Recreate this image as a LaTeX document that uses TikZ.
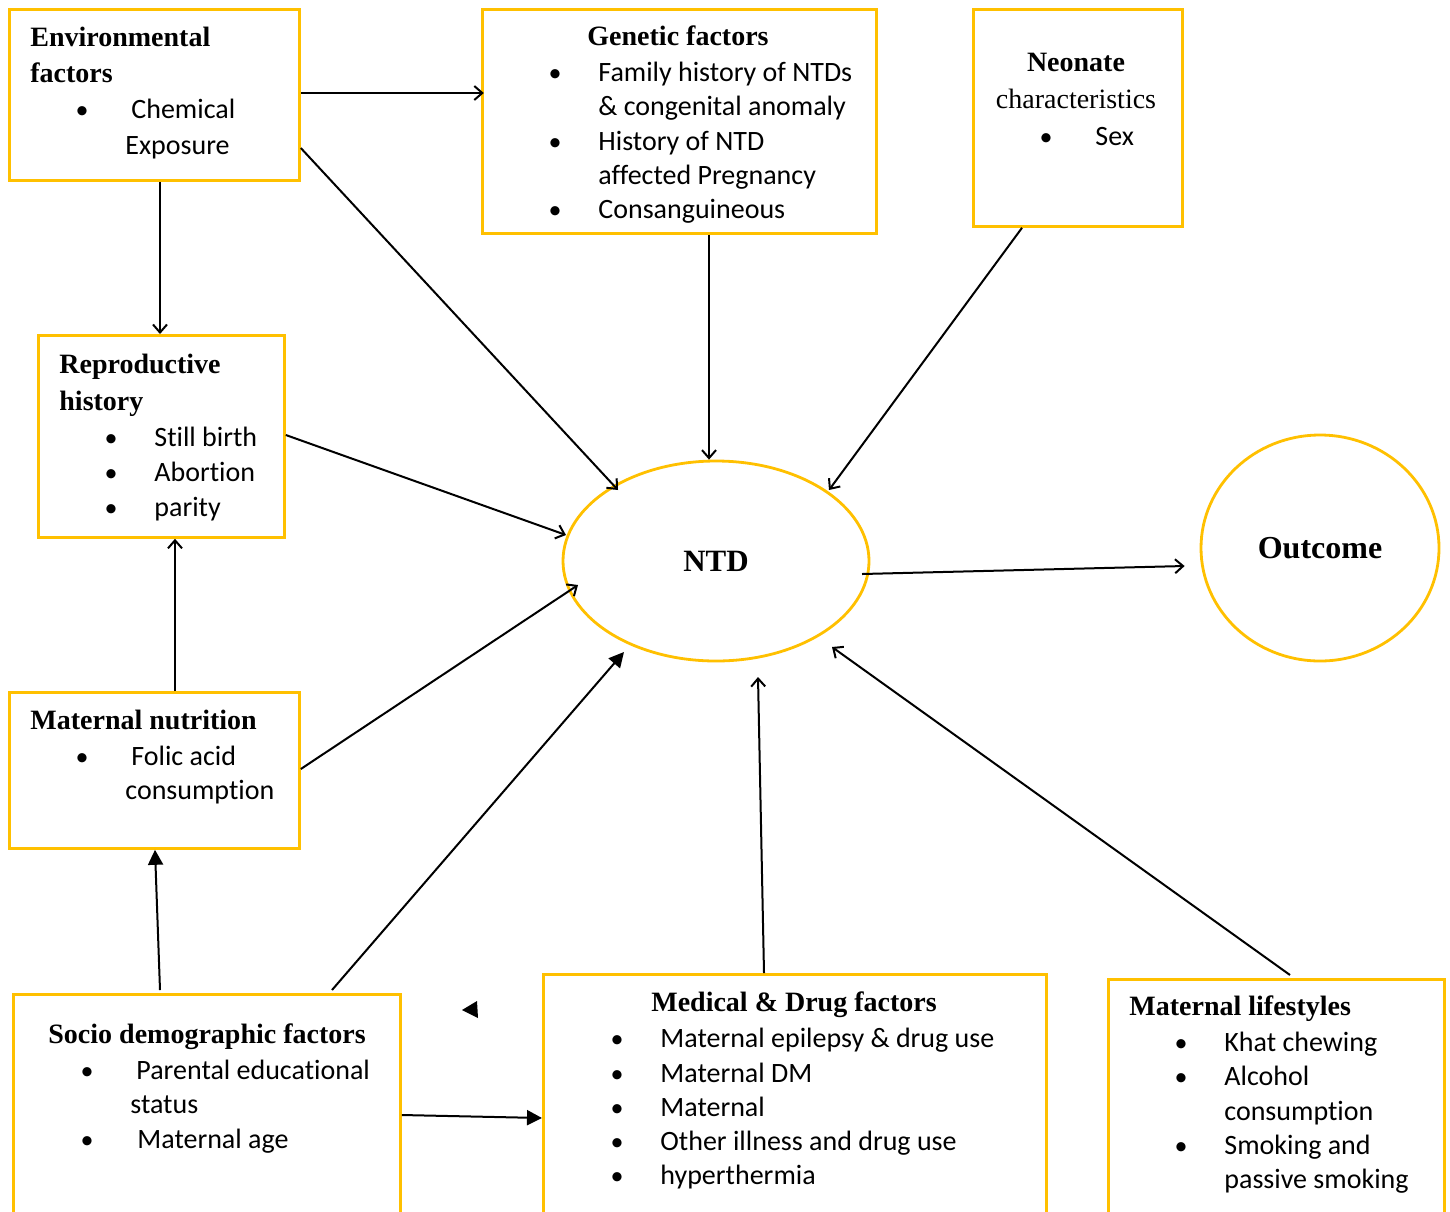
\documentclass[tikz,border=0pt]{standalone}
\usepackage{fontspec}
\setmainfont{Liberation Serif}
\newfontfamily\carl[Ligatures=NoCommon]{Carlito}
\usetikzlibrary{arrows.meta,calc,shapes.geometric}
\definecolor{gold}{HTML}{FFC000}
\begin{document}
\begin{tikzpicture}[x=0.5pt,y=-0.5pt,
  box/.style={draw=gold,line width=1.4pt,anchor=north west,inner sep=0pt,rectangle},
  oval/.style={draw=gold,line width=1.4pt,ellipse,inner sep=0pt},
  txt/.style={anchor=base west,inner sep=0pt,font=\carl\fontsize{14}{17}\selectfont},
  bul/.style={anchor=base,inner sep=0pt,font=\carl\fontsize{13}{17}\selectfont},
  hd/.style={anchor=base west,inner sep=0pt,font=\fontsize{14}{18}\selectfont\bfseries},
  hdc/.style={anchor=base,inner sep=0pt,font=\fontsize{14}{18}\selectfont\bfseries},
  arr/.style={line width=1pt,-{Straight Barb[length=4pt,width=7pt,line width=1pt]}},
  farr/.style={line width=1pt,-{Triangle[length=7.5pt,width=7.5pt]}}]
\clip (0,0) rectangle (1450,1211);
\fill[white] (0,0) rectangle (1450,1211);

% boxes
\node[box,minimum width=145pt,minimum height=85.5pt] (env) at (8,8) {};
\node[box,minimum width=197pt,minimum height=112pt] (gen) at (481,8) {};
\node[box,minimum width=104.5pt,minimum height=108.5pt] (neo) at (972,8) {};
\node[box,minimum width=123pt,minimum height=101pt] (rep) at (37,334) {};
\node[box,minimum width=145pt,minimum height=78pt] (nut) at (8,691) {};
\node[box,minimum width=193.5pt,minimum height=130pt] (soc) at (12,993) {};
\node[box,minimum width=251.5pt,minimum height=140pt] (med) at (542,973) {};
\node[box,minimum width=168pt,minimum height=140pt] (life) at (1107,978) {};
\node[oval,minimum width=153pt,minimum height=100pt,font=\fontsize{15.5}{18}\selectfont\bfseries] (ntd) at (716,561) {NTD};
\node[oval,minimum width=119pt,minimum height=113pt,font=\fontsize{16}{19}\selectfont\bfseries] (out) at (1320,548) {Outcome};

% Environmental
\node[hd] (envh1) at (30,46) {Environmental};
\node[hd] (envh2) at (30,82) {factors};
\node[bul] (envb1) at (82,118) {•};
\node[txt] (envt1) at (131,118) {Chemical};
\node[txt] (envt2) at (125,154) {Exposure};

% Genetic
\node[hdc] (genh) at (678,45) {Genetic factors};
\node[bul] (genb1) at (555,81) {•};
\node[bul] (genb2) at (555,150) {•};
\node[bul] (genb3) at (555,218) {•};
\node[txt] (gent1) at (598,81) {Family history of NTDs};
\node[txt] (gent2) at (598,115) {\& congenital anomaly};
\node[txt] (gent3) at (598,150) {History of NTD};
\node[txt] (gent4) at (598,184) {affected Pregnancy};
\node[txt] (gent5) at (598,218) {Consanguineous};

% Neonate
\node[hdc] (neoh1) at (1076,71) {Neonate};
\node[anchor=base,inner sep=0pt,font=\fontsize{14}{18}\selectfont] (neoh2) at (1076,108) {characteristics};
\node[bul] (neob1) at (1046,145) {•};
\node[txt] (neot1) at (1095,145) {Sex};

% Reproductive
\node[hd] (reph1) at (59,373) {Reproductive};
\node[hd] (reph2) at (59,410) {history};
\node[bul] (repb1) at (111,446) {•};
\node[bul] (repb2) at (111,481) {•};
\node[bul] (repb3) at (111,516) {•};
\node[txt] (rept1) at (154,446) {Still birth};
\node[txt] (rept2) at (154,481) {Abortion};
\node[txt] (rept3) at (154,516) {parity};

% Maternal nutrition
\node[hd] (nuth) at (30,729) {Maternal nutrition};
\node[bul] (nutb1) at (82,765) {•};
\node[txt] (nutt1) at (131,765) {Folic acid};
\node[txt] (nutt2) at (125,799) {consumption};

% Socio demographic
\node[hd] (soch) at (48,1043) {Socio demographic factors};
\node[bul] (socb1) at (87,1079) {•};
\node[bul] (socb2) at (87,1148) {•};
\node[txt] (soct1) at (136,1079) {Parental educational};
\node[txt] (soct2) at (130,1113) {status};
\node[txt] (soct3) at (137,1148) {Maternal age};

% Medical & Drug
\node[hdc] (medh) at (794,1011) {Medical \& Drug factors};
\node[bul] (medb1) at (617,1047) {•};
\node[bul] (medb2) at (617,1082) {•};
\node[bul] (medb3) at (617,1116) {•};
\node[bul] (medb4) at (617,1150) {•};
\node[bul] (medb5) at (617,1184) {•};
\node[txt] (medt1) at (660,1047) {Maternal epilepsy \& drug use};
\node[txt] (medt2) at (660,1082) {Maternal DM};
\node[txt] (medt3) at (660,1116) {Maternal};
\node[txt] (medt4) at (660,1150) {Other illness and drug use};
\node[txt] (medt5) at (660,1184) {hyperthermia};

% Maternal lifestyles
\node[hd] (lifeh) at (1129,1015) {Maternal lifestyles};
\node[bul] (lifeb1) at (1181,1051) {•};
\node[bul] (lifeb2) at (1181,1085) {•};
\node[bul] (lifeb3) at (1181,1154) {•};
\node[txt] (lifet1) at (1224,1051) {Khat chewing};
\node[txt] (lifet2) at (1224,1085) {Alcohol};
\node[txt] (lifet3) at (1224,1120) {consumption};
\node[txt] (lifet4) at (1224,1154) {Smoking and};
\node[txt] (lifet5) at (1224,1188) {passive smoking};

% connectors
\draw[arr] ($(env.north east)+(0,85)$) -- ($(env.north east)+(183,85)$);
\draw[arr] ($(env.north east)+(0,140)$) -- ($(ntd.center)+(-98,-71)$);
\draw[arr] ($(env.south west)+(152,0)$) -- ($(rep.north west)+(123,0)$);
\draw[arr] ($(gen.south west)+(228,0)$) -- ($(ntd.north)+(-7,0)$);
\draw[arr] ($(neo.south west)+(50,0)$) -- ($(ntd.center)+(113,-71)$);
\draw[arr] ($(rep.north east)+(0,101)$) -- ($(ntd.center)+(-150,-26)$);
\draw[arr] ($(nut.north west)+(167,0)$) -- ($(rep.south west)+(138,0)$);
\draw[arr] ($(nut.north east)+(0,78)$) -- ($(ntd.center)+(-138,24)$);
\draw[farr] ($(soc.north west)+(148,-3)$) -- ($(nut.south west)+(147,0)$);
\draw[farr] ($(soc.north west)+(320,-3)$) -- ($(ntd.center)+(-92,91)$);
\draw[farr] ($(soc.north east)+(0,122)$) -- ($(med.north west)+(0,145)$);
\draw[arr] ($(med.north west)+(222,0)$) -- ($(ntd.center)+(42,116)$);
\draw[arr] ($(life.north west)+(183,-3)$) -- ($(ntd.center)+(116,86)$);
\draw[arr] ($(ntd.center)+(146,13)$) -- ($(out.west)+(-15,18)$);

% stray arrowhead
\fill (462,1010) -- (477,1001) -- (478,1018) -- cycle;
\end{tikzpicture}
\end{document}
